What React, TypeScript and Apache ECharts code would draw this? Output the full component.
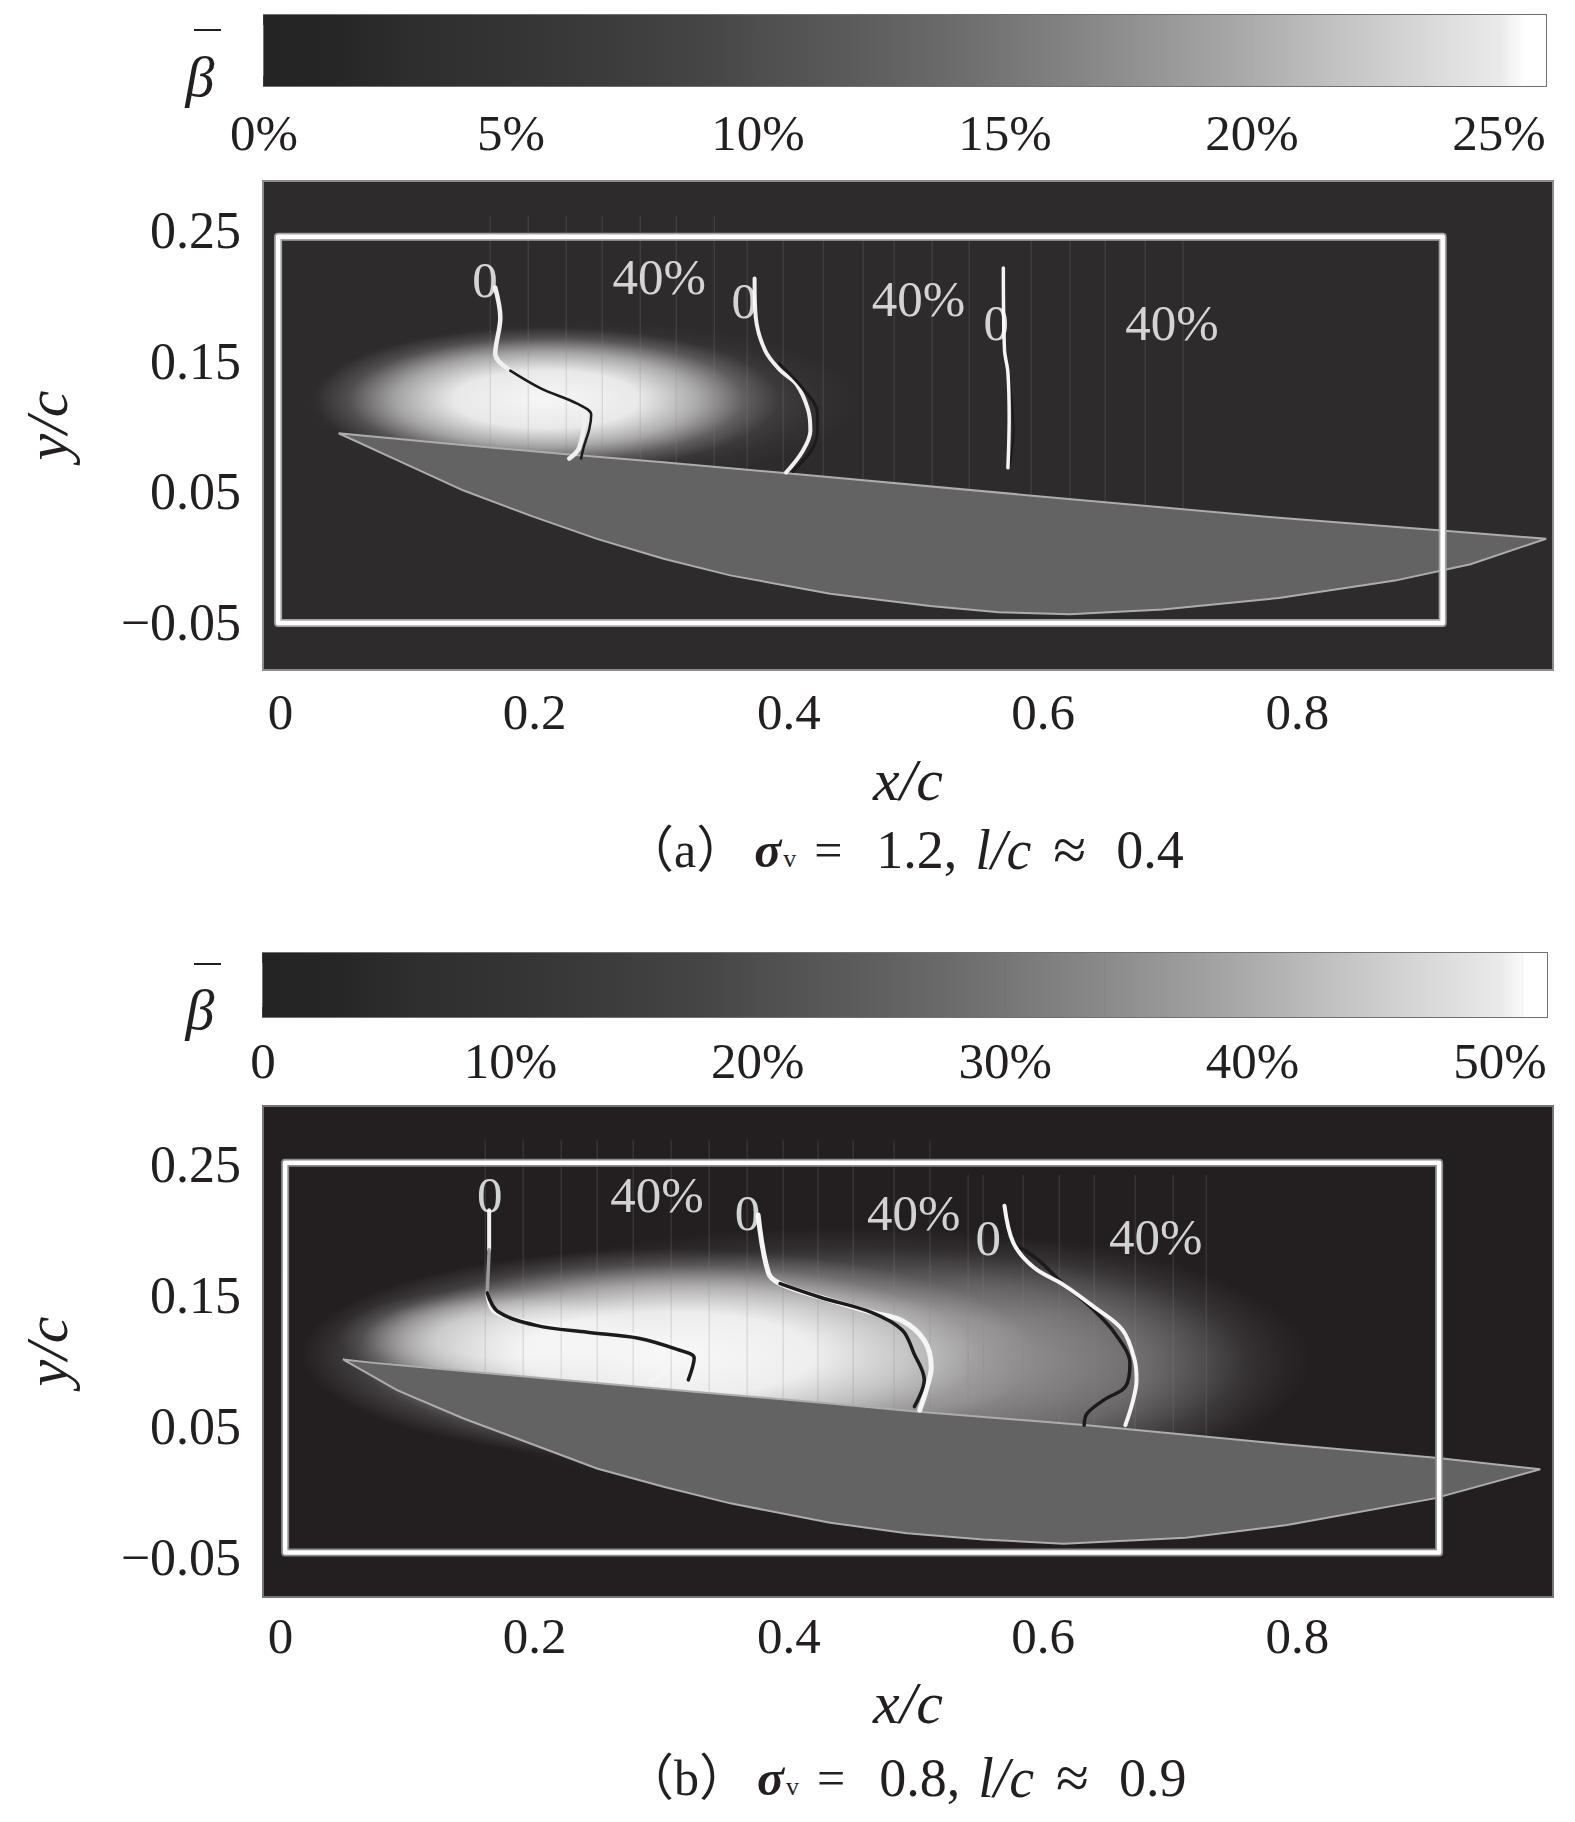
import React, { useEffect, useRef } from "react";
import * as echarts from "echarts";

type P = [number, number];

const cbarTicksA = [0, 5, 10, 15, 20, 25];
const cbarLabelsA = ["0%", "5%", "10%", "15%", "20%", "25%"];
const cbarTicksB = [0, 10, 20, 30, 40, 50];
const cbarLabelsB = ["0", "10%", "20%", "30%", "40%", "50%"];
const xTicks = [0, 0.2, 0.4, 0.6, 0.8];
const xTickLabels = ["0", "0.2", "0.4", "0.6", "0.8"];
const yTicks = [-0.05, 0.05, 0.15, 0.25];
const yTickLabels = ["−0.05", "0.05", "0.15", "0.25"];

const cbarGreysA: P[] = [[0, 36], [1.5, 38], [3, 46], [5, 52], [7, 60], [9, 70], [10, 78], [12, 92], [14, 108], [15, 118], [17, 138], [19, 160], [20, 172], [22, 198], [24, 222], [25, 234], [25.4, 250], [25.5, 255], [25.95, 255]];
const cbarGreysB: P[] = [[0, 36], [3, 38], [6, 46], [10, 52], [14, 60], [18, 70], [20, 78], [24, 92], [28, 108], [30, 118], [34, 138], [38, 160], [40, 172], [44, 198], [48, 222], [50, 234], [50.9, 250], [51, 255], [51.9, 255]];

const wingA: P[] = [[0.0458, 0.0967], [0.1284, 0.089], [0.2227, 0.0809], [0.3012, 0.0745], [0.3985, 0.066], [0.6025, 0.0479], [0.7854, 0.0319], [0.9134, 0.0221], [0.9957, 0.0159], [0.9362, -0.0037], [0.8768, -0.0162], [0.7854, -0.0295], [0.6939, -0.0384], [0.6208, -0.042], [0.5651, -0.0405], [0.5111, -0.0357], [0.4325, -0.0263], [0.3539, -0.0122], [0.3014, 0.0005], [0.249, 0.0158], [0.1966, 0.0336], [0.1441, 0.0528], [0.0982, 0.0732]];
const wingB: P[] = [[0.0492, 0.1032], [0.0733, 0.1006], [0.1651, 0.0925], [0.249, 0.0853], [0.3277, 0.0784], [0.4325, 0.0696], [0.4974, 0.0636], [0.6345, 0.053], [0.7854, 0.0388], [0.9088, 0.0281], [0.9911, 0.0192], [0.9079, -0.003], [0.7918, -0.0234], [0.7122, -0.0331], [0.6162, -0.0376], [0.5528, -0.0345], [0.4928, -0.0296], [0.4325, -0.0216], [0.3539, -0.0068], [0.3014, 0.0059], [0.249, 0.0199], [0.1966, 0.039], [0.1441, 0.0581], [0.0917, 0.0797]];

const boxA: P[] = [[-0.0018, 0.2473], [0.9143, 0.2473], [0.9143, -0.0487], [-0.0018, -0.0487], [-0.0018, 0.2473]];
const boxB: P[] = [[0.0037, 0.2536], [0.9115, 0.2536], [0.9115, -0.0443], [0.0037, -0.0443], [0.0037, 0.2536]];

// [centre x, centre y, radius x, radius y, peak opacity]
const glowA = [[0.2368, 0.1209, 0.2194, 0.0623, 0.18], [0.2094, 0.1227, 0.1828, 0.0552, 0.95]];
const glowB = [[0.6025, 0.0938, 0.192, 0.1021, 0.15], [0.4471, 0.1027, 0.3657, 0.1025, 0.42], [0.1728, 0.1204, 0.128, 0.0373, 0.55], [0.3054, 0.1071, 0.2889, 0.0808, 0.95]];

// [x, bottom y]
const stripesA = [[0.1651, 0.082], [0.195, 0.08], [0.2249, 0.076], [0.2532, 0.073], [0.2831, 0.071], [0.3114, 0.069], [0.3413, 0.067], [0.3672, 0.065], [0.3955, 0.063], [0.427, 0.06], [0.4584, 0.058], [0.4828, 0.055], [0.5127, 0.053], [0.5418, 0.05], [0.5906, 0.046], [0.6212, 0.044], [0.6488, 0.042], [0.6803, 0.039], [0.7101, 0.036]].map(([x, b]) => [x, x < 0.35 ? 0.2634 : 0.2443, b]);
const stripesB = [[0.1612, 0.09], [0.191, 0.087], [0.2209, 0.083], [0.2492, 0.081], [0.2775, 0.079], [0.3074, 0.077], [0.3373, 0.074], [0.3672, 0.072], [0.3955, 0.07], [0.4229, 0.067], [0.4506, 0.065], [0.4828, 0.062], [0.511, 0.06], [0.541, 0.058], [0.5528, 0.057], [0.5843, 0.054], [0.6127, 0.052], [0.6402, 0.05], [0.6725, 0.047], [0.7024, 0.044], [0.7284, 0.042]].map(([x, b]) => [x, x < 0.53 ? 0.2706 : 0.2443, b]);

const a1White: P[] = [[0.169, 0.2083], [0.173, 0.1853], [0.169, 0.1577], [0.1808, 0.1447], [0.2052, 0.1309], [0.2335, 0.1194], [0.239, 0.1087], [0.2351, 0.0857], [0.2273, 0.0773]];
const a1Dark: P[] = [[0.1808, 0.1447], [0.2052, 0.1309], [0.2335, 0.1194], [0.2445, 0.111], [0.243, 0.1], [0.2385, 0.0857], [0.2365, 0.0773]];
const a2White: P[] = [[0.373, 0.2153], [0.3739, 0.1859], [0.3813, 0.1601], [0.3931, 0.145], [0.4059, 0.1343], [0.4151, 0.1147], [0.4169, 0.0987], [0.4105, 0.0826], [0.3977, 0.0666]];
const a2Dark: P[] = [[0.3922, 0.1503], [0.4105, 0.1316], [0.4224, 0.112], [0.4224, 0.0969], [0.4169, 0.0826], [0.4032, 0.0675]];
const a3White: P[] = [[0.5687, 0.2233], [0.5696, 0.161], [0.5723, 0.1432], [0.5733, 0.1076], [0.5723, 0.0702]];
const a3Dark: P[] = [[0.5705, 0.161], [0.575, 0.1254], [0.5769, 0.0987], [0.5733, 0.0702]];

const b1Top: P[] = [[0.1642, 0.2172], [0.1642, 0.187]];
const b1Grey: P[] = [[0.1642, 0.187], [0.1627, 0.1541]];
const b1White: P[] = [[0.1627, 0.1541], [0.168, 0.1399], [0.1985, 0.131], [0.24, 0.124], [0.278, 0.122], [0.3054, 0.108], [0.3035, 0.0965], [0.2907, 0.0858]];
const b1Dark: P[] = [[0.1627, 0.1541], [0.171, 0.1399], [0.2011, 0.1293], [0.2414, 0.124], [0.2816, 0.1195], [0.3127, 0.1107], [0.3255, 0.1044], [0.3209, 0.0876]];
const b2White: P[] = [[0.3758, 0.2136], [0.384, 0.1692], [0.3931, 0.1612], [0.4251, 0.1506], [0.4654, 0.1391], [0.4891, 0.1328], [0.5065, 0.1178], [0.512, 0.0973], [0.5088, 0.0823], [0.5029, 0.0645]];
const b2Dark: P[] = [[0.3931, 0.1612], [0.4251, 0.1506], [0.4654, 0.1391], [0.4891, 0.1258], [0.4983, 0.108], [0.5065, 0.0876], [0.4987, 0.0672]];
const b3White: P[] = [[0.5696, 0.2207], [0.5766, 0.1923], [0.5925, 0.1737], [0.6167, 0.1599], [0.64, 0.1434], [0.6625, 0.1257], [0.672, 0.1027], [0.6735, 0.0876], [0.6702, 0.0699], [0.6647, 0.053]];
const b3Dark: P[] = [[0.5766, 0.1923], [0.5966, 0.179], [0.6126, 0.1639], [0.64, 0.1408], [0.6565, 0.1231], [0.6683, 0.1], [0.6647, 0.0823], [0.6482, 0.0725], [0.6345, 0.0618], [0.6323, 0.053]];

const notesA: [number, number, string][] = [[0.1609, 0.2144, "0"], [0.2981, 0.2162, "40%"], [0.3648, 0.1984, "0"], [0.5019, 0.1993, "40%"], [0.5632, 0.1815, "0"], [0.7013, 0.1815, "40%"]];
const notesB: [number, number, string][] = [[0.1646, 0.2287, "0"], [0.2962, 0.2287, "40%"], [0.3675, 0.2154, "0"], [0.4983, 0.2154, "40%"], [0.5568, 0.1959, "0"], [0.6885, 0.1967, "40%"]];

const FONT = "Liberation Serif";
const INK = "#231f20";
const grey = (g: number) => `rgb(${g},${g},${g})`;

function cbarSeries(i: number, stops: P[]) {
  return {
    type: "custom", xAxisIndex: i, yAxisIndex: i, silent: true, z: 1, clip: true,
    data: stops.map((s) => [s[0], 0.5]),
    renderItem: (p: any, api: any) => {
      const k = p.dataIndex;
      if (k >= stops.length - 1) return null;
      const a = api.coord([stops[k][0], 1]);
      const b = api.coord([stops[k + 1][0], 0]);
      return {
        type: "rect",
        shape: { x: a[0], y: a[1], width: b[0] - a[0] + 0.6, height: b[1] - a[1] },
        style: { fill: new echarts.graphic.LinearGradient(0, 0, 1, 0, [{ offset: 0, color: grey(stops[k][1]) }, { offset: 1, color: grey(stops[k + 1][1]) }]) },
      };
    },
  };
}
function glowSeries(i: number, blobs: number[][]) {
  return {
    type: "custom", xAxisIndex: i, yAxisIndex: i, silent: true, z: 1, clip: true,
    data: blobs,
    encode: { x: 0, y: 1 },
    renderItem: (p: any, api: any) => {
      const b = blobs[p.dataIndex];
      const c = api.coord([b[0], b[1]]);
      const s = api.size([b[2], b[3]]);
      const a = b[4];
      return {
        type: "ellipse",
        shape: { cx: c[0], cy: c[1], rx: s[0], ry: s[1] },
        style: {
          fill: new echarts.graphic.RadialGradient(0.5, 0.5, 0.5, [
            { offset: 0, color: `rgba(255,255,255,${a})` },
            { offset: 0.4, color: `rgba(255,255,255,${a * 0.92})` },
            { offset: 0.65, color: `rgba(255,255,255,${a * 0.55})` },
            { offset: 0.85, color: `rgba(255,255,255,${a * 0.15})` },
            { offset: 1, color: "rgba(255,255,255,0)" },
          ]),
        },
      };
    },
  };
}
function stripeSeries(i: number, rows: number[][]) {
  return {
    type: "custom", xAxisIndex: i, yAxisIndex: i, silent: true, z: 1,
    data: rows,
    encode: { x: 0, y: 1 },
    renderItem: (p: any, api: any) => {
      const r = rows[p.dataIndex];
      const a = api.coord([r[0], r[1]]);
      const b = api.coord([r[0], r[2]]);
      return { type: "line", shape: { x1: a[0], y1: a[1], x2: b[0], y2: b[1] }, style: { stroke: "rgba(135,135,135,0.2)", lineWidth: 1.5 } };
    },
  };
}
function wingSeries(i: number, pts: P[]) {
  return {
    type: "custom", xAxisIndex: i, yAxisIndex: i, silent: true, z: 2,
    data: pts,
    encode: { x: 0, y: 1 },
    renderItem: (p: any, api: any) => {
      if (p.dataIndex !== 0) return null;
      return {
        type: "polygon",
        shape: { points: pts.map((q) => api.coord(q)) },
        style: { fill: "#646363", stroke: "#adadad", lineWidth: 2 },
      };
    },
  };
}
function curve(i: number, data: P[], color: string, width: number, smooth: number | boolean = 0.35, z = 4) {
  return {
    type: "line", xAxisIndex: i, yAxisIndex: i, data, smooth, showSymbol: false, silent: true, z,
    lineStyle: { color, width, cap: "round", join: "round" },
  };
}
function notesSeries(i: number, rows: [number, number, string][]) {
  return {
    type: "scatter", xAxisIndex: i, yAxisIndex: i, silent: true, z: 6, symbolSize: 1,
    itemStyle: { color: "rgba(0,0,0,0)" },
    data: rows.map((r) => ({ value: [r[0], r[1]], name: r[2] })),
    label: { show: true, position: "inside", formatter: (q: any) => q.name, color: "#fff", fontFamily: FONT, fontSize: 51 },
  };
}
const textStyle = { fontFamily: FONT, fontSize: 51, color: INK };
const nameStyle = { fontFamily: FONT, fontSize: 60, fontStyle: "italic", color: INK };

function cbarX(max: number, ticks: number[], labels: string[], margin: number) {
  const common = { type: "value", min: 0, max, splitLine: { show: false }, axisLine: { show: false } };
  const tick = { show: true, inside: true, length: 10, customValues: ticks, lineStyle: { color: "#3a3a3a", width: 2 } };
  return [
    { ...common, position: "bottom", axisTick: tick, axisLabel: { ...textStyle, margin, customValues: ticks, formatter: (v: number) => labels[ticks.indexOf(v)] ?? "" } },
    { ...common, position: "top", axisTick: tick, axisLabel: { show: false } },
  ];
}
function plotX(margin: number, gap: number) {
  return {
    type: "value", min: -0.0137, max: 1.0011, position: "bottom",
    splitLine: { show: false }, axisLine: { show: false }, axisTick: { show: false },
    axisLabel: { ...textStyle, margin, customValues: xTicks, formatter: (v: number) => xTickLabels[xTicks.indexOf(v)] ?? "" },
    name: "x/c", nameLocation: "middle", nameGap: gap, nameTextStyle: { ...nameStyle, verticalAlign: "top" },
  };
}
function plotY(min: number, max: number) {
  return {
    type: "value", min, max,
    splitLine: { show: false }, axisLine: { show: false }, axisTick: { show: false },
    axisLabel: {
      margin: 22, customValues: yTicks,
      formatter: (v: number) => `{l|${yTickLabels[yTicks.indexOf(v)] ?? ""}}`,
      rich: { l: { ...textStyle, fontSize: 52, padding: [0, 0, 5, 0] } },
    },
    name: "y/c", nameLocation: "middle", nameGap: 186, nameRotate: 90, nameTextStyle: nameStyle,
  };
}
function cbarY() {
  return {
    type: "value", min: 0, max: 1,
    splitLine: { show: false }, axisLine: { show: false }, axisTick: { show: false }, axisLabel: { show: false },
  };
}
function caption(prefix: string, sigma: string, ratio: string, top: number) {
  const p = { fontFamily: `${FONT}, Noto Sans CJK SC`, fontSize: 50, color: INK };
  return {
    left: 624, top, padding: 0,
    text: `{p|${prefix}}{s|σ}{v|v}{e|=}{n|${sigma},}{i|l/c}{a|≈}{r|${ratio}}`,
    textStyle: {
      fontWeight: "normal",
      rich: {
        p,
        s: { ...p, fontStyle: "italic", fontWeight: "bold", padding: [0, 0, 0, 8] },
        v: { ...p, fontSize: 26, padding: [18, 0, 0, 2] },
        e: { ...p, padding: [0, 0, 0, 18] },
        n: { ...p, fontSize: 54, padding: [0, 0, 0, 34] },
        i: { ...p, fontSize: 56, fontStyle: "italic", padding: [0, 0, 0, 18] },
        a: { ...p, fontSize: 60, padding: [0, 0, 0, 22] },
        r: { ...p, fontSize: 54, padding: [0, 0, 0, 30] },
      },
    },
  };
}
function beta(y: number) {
  return {
    type: "text", x: 200, y,
    style: { text: "β", fontFamily: FONT, fontSize: 58, fontStyle: "italic", fill: INK, textAlign: "center", textVerticalAlign: "middle" },
  };
}

export default function App() {
  const ref = useRef<HTMLDivElement>(null);
  useEffect(() => {
    const chart = echarts.init(ref.current!, undefined, { renderer: "svg" });
    const grid = (left: number, top: number, width: number, height: number, bg: string, border: string) => ({
      left, top, width, height, show: true, backgroundColor: bg, borderColor: border, borderWidth: 2, containLabel: false,
    });
    chart.setOption({
      animation: false,
      backgroundColor: "#fff",
      grid: [
        grid(264, 15, 1282, 71, "#232021", "#707070"),
        grid(263, 181, 1290, 489, "#2e2b2c", "#8c8c8c"),
        grid(263, 953, 1284, 64, "#232021", "#707070"),
        grid(263, 1106, 1290, 491, "#231f20", "#757575"),
      ],
      xAxis: [
        { ...cbarX(25.95, cbarTicksA, cbarLabelsA, 21)[0], gridIndex: 0 },
        { ...plotX(16, 80), gridIndex: 1 },
        { ...cbarX(51.9, cbarTicksB, cbarLabelsB, 18)[0], gridIndex: 2 },
        { ...plotX(13, 76), gridIndex: 3 },
        { ...cbarX(25.95, cbarTicksA, cbarLabelsA, 21)[1], gridIndex: 0 },
        { ...cbarX(51.9, cbarTicksB, cbarLabelsB, 18)[1], gridIndex: 2 },
      ],
      yAxis: [
        { ...cbarY(), gridIndex: 0 },
        { ...plotY(-0.0847, 0.29), gridIndex: 1 },
        { ...cbarY(), gridIndex: 2 },
        { ...plotY(-0.0784, 0.297), gridIndex: 3 },
      ],
      title: [caption("（a）", "1.2", "0.4", 820), caption("（b）", "0.8", "0.9", 1748)],
      graphic: [
        beta(76),
        beta(1009),
        { type: "line", shape: { x1: 194, y1: 30, x2: 221, y2: 30 }, style: { stroke: INK, lineWidth: 2 } },
        { type: "line", shape: { x1: 194, y1: 964, x2: 221, y2: 964 }, style: { stroke: INK, lineWidth: 2 } },
      ],
      series: [
        cbarSeries(0, cbarGreysA),
        cbarSeries(2, cbarGreysB),
        glowSeries(1, glowA),
        stripeSeries(1, stripesA),
        wingSeries(1, wingA),
        curve(1, a1White, "#f0f0f0", 4.5),
        curve(1, a1Dark, "#1c1a1b", 2.5),
        curve(1, a2White, "#f0f0f0", 4),
        curve(1, a2Dark, "#1c1a1b", 3),
        curve(1, a3Dark, "#1c1a1b", 2),
        curve(1, a3White, "#f5f5f5", 3.5),
        curve(1, boxA, "#a5a5a5", 8, false, 5),
        curve(1, boxA, "#ffffff", 4.5, false, 5),
        notesSeries(1, notesA),
        glowSeries(3, glowB),
        stripeSeries(3, stripesB),
        wingSeries(3, wingB),
        curve(3, b1Top, "#f2f2f2", 4, false),
        curve(3, b1Grey, "#9a9a9a", 3.5, false),
        curve(3, b1White, "#f5f5f5", 4),
        curve(3, b1Dark, "#1c1a1b", 3.5),
        curve(3, b2White, "#f5f5f5", 5),
        curve(3, b2Dark, "#1c1a1b", 3.5),
        curve(3, b3Dark, "#1c1a1b", 3.5),
        curve(3, b3White, "#f5f5f5", 4),
        curve(3, boxB, "#8c8c8c", 8, false, 5),
        curve(3, boxB, "#ffffff", 4.5, false, 5),
        notesSeries(3, notesB),
      ],
    });
    return () => chart.dispose();
  }, []);
  return <div ref={ref} style={{ position: "absolute", left: 0, top: 0, width: 1575, height: 1822 }} />;
}
